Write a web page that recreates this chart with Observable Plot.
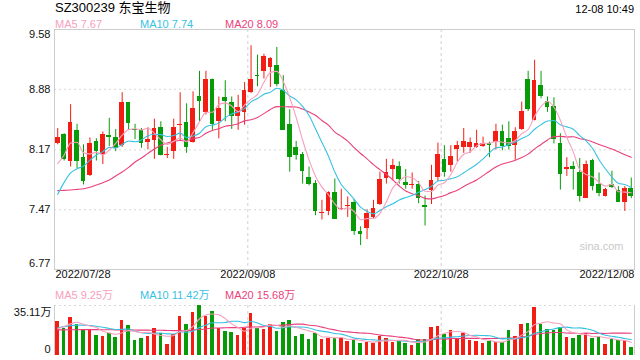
<!DOCTYPE html>
<html><head><meta charset="utf-8">
<script src="https://cdn.jsdelivr.net/npm/d3@7"></script>
<script src="https://cdn.jsdelivr.net/npm/@observablehq/plot@0.6"></script>
<style>
html,body{margin:0;padding:0;background:#fff;}
#wrap{position:relative;width:640px;height:360px;overflow:hidden;font-family:"Liberation Sans",Arial,"Noto Sans CJK SC",sans-serif;color:#000;}
.t{position:absolute;white-space:nowrap;line-height:1;}
#wrap svg{position:absolute;left:0;}
</style></head><body><div id="wrap"></div>
<script>
// ---- data ----
const title = "SZ300239 东宝生物";
const stamp = "12-08 10:49";
const dateLabels = ["2022/07/28","2022/09/08","2022/10/28","2022/12/08"];
const dateIndex = [0, 30, 60, 89];
const priceTicks = [9.58, 8.88, 8.17, 7.47, 6.77];
const volTicks = [35.11, 0];
const maLegend = ["MA5 7.67", "MA10 7.74", "MA20 8.09"];
const volLegend = ["MA5 9.25万", "MA10 11.42万", "MA20 15.68万"];

const open = [8.25,8.35,8.04,8.40,8.08,7.87,8.27,8.12,8.34,8.31,8.22,8.72,8.41,8.40,8.26,8.28,8.43,8.10,8.15,8.46,
8.49,8.26,8.80,8.61,9.00,8.50,8.78,8.72,8.56,8.61,8.84,9.04,9.09,9.14,9.16,8.87,8.47,8.20,8.12,7.85,
7.78,7.42,7.45,7.67,7.47,7.51,7.56,7.22,7.25,7.38,7.53,7.83,7.94,7.98,7.79,7.75,7.77,7.52,7.69,7.85,
8.06,7.99,8.17,8.20,8.20,8.20,8.21,8.25,8.26,8.39,8.30,8.22,8.41,9.00,8.51,8.92,8.74,8.68,8.25,7.94,
7.98,7.91,7.60,8.05,7.77,7.63,7.76,7.70,7.56,7.72];
const high = [8.42,8.36,8.70,8.47,8.23,8.31,8.30,8.38,8.54,8.41,8.84,8.72,8.47,8.42,8.43,8.53,8.50,8.20,8.53,8.84,
8.71,8.85,9.09,9.09,9.00,8.79,8.98,8.79,8.81,8.96,9.39,9.28,9.29,9.25,9.37,9.04,8.64,8.27,8.14,7.97,
7.81,7.58,7.68,7.83,7.71,7.62,7.59,7.27,7.47,7.58,7.91,8.06,8.06,8.03,7.94,7.90,7.80,7.63,7.99,8.25,
8.22,8.22,8.27,8.42,8.31,8.40,8.32,8.26,8.47,8.46,8.50,8.43,8.73,9.09,9.22,9.09,8.79,8.78,8.36,8.08,
8.03,8.07,8.04,8.06,7.90,7.72,7.92,7.74,7.74,7.84];
const low = [8.23,8.04,7.97,7.95,7.76,7.86,8.04,8.00,8.21,8.15,8.20,8.40,8.29,8.19,8.17,8.06,8.10,8.07,8.06,8.27,
8.13,8.25,8.50,8.58,8.40,8.30,8.50,8.41,8.40,8.46,8.83,8.91,9.00,8.90,8.91,8.40,7.91,8.05,7.77,7.75,
7.40,7.35,7.40,7.36,7.46,7.38,7.17,7.05,7.12,7.36,7.52,7.77,7.81,7.77,7.71,7.71,7.54,7.28,7.53,7.80,
7.85,7.91,8.03,8.13,8.13,8.19,8.20,8.08,8.17,8.16,8.17,8.05,8.40,8.62,8.51,8.77,8.61,8.24,7.70,7.86,
7.70,7.56,7.60,7.69,7.62,7.62,7.72,7.56,7.45,7.60];
const close = [8.31,8.06,8.49,8.03,7.80,8.24,8.15,8.35,8.31,8.19,8.72,8.48,8.40,8.24,8.29,8.42,8.11,8.12,8.43,8.47,
8.20,8.65,8.74,9.00,8.47,8.65,8.74,8.56,8.67,8.86,8.99,9.03,9.26,9.24,8.94,8.40,8.08,8.10,7.92,7.77,
7.45,7.44,7.67,7.36,7.48,7.52,7.22,7.18,7.43,7.49,7.82,7.90,7.99,7.82,7.75,7.76,7.60,7.50,7.81,8.12,
7.90,8.09,8.22,8.27,8.26,8.25,8.24,8.22,8.39,8.21,8.21,8.38,8.62,8.64,8.98,8.79,8.67,8.29,7.88,7.97,
7.94,7.62,8.00,7.74,7.66,7.71,7.73,7.56,7.72,7.62];
const ma5 = [8.01,8.11,8.25,8.26,8.138,8.124,8.141,8.113,8.169,8.247,8.343,8.408,8.418,8.404,8.424,8.363,8.290,8.235,8.272,8.309,
8.266,8.373,8.498,8.612,8.612,8.702,8.721,8.684,8.618,8.696,8.764,8.821,8.962,9.075,9.090,8.972,8.782,8.550,8.286,8.053,
7.863,7.735,7.647,7.537,7.478,7.492,7.449,7.352,7.366,7.368,7.428,7.563,7.726,7.803,7.856,7.844,7.785,7.686,7.684,7.758,
7.786,7.882,8.025,8.119,8.147,8.217,8.247,8.248,8.271,8.260,8.252,8.281,8.360,8.409,8.563,8.679,8.737,8.670,8.518,8.317,
8.147,7.939,7.882,7.854,7.792,7.746,7.767,7.680,7.676,7.668];
const ma10 = [7.65,7.79,7.90,7.95,7.98,8.05,8.11,8.15,8.20,8.193,8.233,8.275,8.266,8.287,8.335,8.353,8.349,8.327,8.338,8.367,
8.314,8.332,8.366,8.442,8.461,8.484,8.547,8.591,8.615,8.654,8.733,8.771,8.823,8.846,8.893,8.868,8.801,8.756,8.680,8.572,
8.417,8.258,8.099,7.911,7.765,7.678,7.592,7.500,7.451,7.423,7.460,7.506,7.539,7.585,7.612,7.636,7.674,7.706,7.744,7.807,
7.815,7.834,7.856,7.902,7.953,8.002,8.065,8.137,8.195,8.204,8.235,8.264,8.304,8.340,8.412,8.466,8.509,8.515,8.464,8.440,
8.413,8.338,8.276,8.186,8.055,7.947,7.853,7.781,7.765,7.730];
const ma20 = [7.693,7.697,7.701,7.708,7.716,7.732,7.759,7.786,7.818,7.865,7.911,7.966,8.028,8.075,8.130,8.181,8.224,8.251,8.270,8.280,
8.274,8.303,8.316,8.364,8.398,8.418,8.448,8.459,8.477,8.510,8.524,8.551,8.595,8.644,8.677,8.676,8.674,8.673,8.648,8.613,
8.575,8.515,8.461,8.379,8.329,8.273,8.197,8.128,8.066,7.997,7.939,7.882,7.819,7.748,7.689,7.657,7.633,7.603,7.597,7.615,
7.637,7.670,7.697,7.743,7.782,7.819,7.869,7.921,7.969,8.005,8.025,8.049,8.080,8.121,8.182,8.234,8.287,8.326,8.329,8.322,
8.324,8.301,8.290,8.263,8.233,8.206,8.181,8.148,8.114,8.085];
const volume = [24.1,19.2,26.5,21.5,18.0,18.3,14.0,13.3,15.7,12.6,24.6,21.1,10.5,11.9,13.3,19.0,15.7,7.7,14.7,27.4,
21.8,30.2,35.1,27.6,30.9,19.2,16.9,16.4,14.0,18.7,29.7,19.0,18.5,21.8,16.9,22.9,24.6,13.3,14.7,11.2,
15.7,11.2,11.9,12.2,11.9,9.8,10.5,8.4,9.4,8.7,13.3,11.9,9.4,10.1,8.4,7.0,11.0,11.0,19.7,20.4,
14.7,17.6,11.9,15.7,10.5,9.8,8.4,9.8,9.4,9.4,17.6,13.3,21.8,22.5,33.9,21.8,18.3,17.6,19.7,12.6,
11.9,14.0,15.4,11.9,13.3,7.7,11.2,10.5,10.5,5.6];
const vma5 = [18.7,20.4,22.2,23.4,21.9,20.7,19.7,17.0,15.9,14.8,16.0,17.5,16.9,16.1,16.3,15.2,14.1,13.5,14.1,16.9,
17.5,20.4,25.8,28.4,29.1,28.6,25.9,22.2,19.5,17.0,19.1,19.6,20.0,21.5,21.2,19.8,20.9,19.9,18.5,17.3,
15.9,13.2,12.9,12.4,12.6,11.4,11.3,10.6,10.0,9.4,10.1,10.3,10.5,10.7,10.6,9.4,9.2,9.5,11.4,13.8,
15.4,16.7,16.9,16.1,14.1,13.1,11.3,10.8,9.6,9.4,10.9,11.9,14.3,16.9,21.8,22.7,23.7,22.8,22.3,18.0,
16.0,15.2,14.7,13.2,13.3,12.5,11.9,10.9,10.6,9.1];
const vma10 = [19.5,20.3,21.0,21.3,21.3,21.0,20.5,19.8,19.0,18.3,18.4,18.6,17.0,16.0,15.5,15.6,15.8,15.2,15.1,16.6,
16.3,17.2,19.7,21.3,23.0,23.0,23.2,24.0,24.0,23.1,23.9,22.8,21.1,20.5,19.1,19.5,20.3,19.9,20.0,19.3,
17.9,17.1,16.4,15.5,15.0,13.7,12.2,11.8,11.2,11.0,10.7,10.8,10.6,10.3,10.0,9.7,9.8,10.0,11.1,12.2,
12.4,12.9,13.2,13.7,14.0,14.2,14.0,13.9,12.8,11.7,12.0,11.6,12.6,13.3,15.6,16.8,17.8,18.6,19.6,19.9,
19.3,19.4,18.8,17.7,15.7,14.2,13.5,12.8,11.9,11.2];
const vma20 = [18.0,18.0,18.1,18.1,18.2,18.2,18.2,18.1,18.1,18.0,18.0,17.9,17.9,17.8,17.8,17.7,17.7,17.6,17.5,17.5,
17.3,17.9,18.3,18.6,19.3,19.3,19.5,19.6,19.5,19.8,20.1,20.0,20.4,20.9,21.1,21.3,21.7,22.0,22.0,21.2,
20.9,19.9,18.8,18.0,17.0,16.6,16.2,15.8,15.6,15.1,14.3,13.9,13.5,12.9,12.5,11.7,11.0,10.9,11.1,11.6,
11.5,11.9,11.9,12.0,12.0,12.0,11.9,11.9,11.9,12.0,12.2,12.3,12.9,13.5,14.8,15.5,15.9,16.2,16.2,15.8,
15.7,15.5,15.7,15.5,15.6,15.5,15.7,15.7,15.7,15.6];

// ---- build ----
const arrs = {open, high, low, close, ma5, ma10, ma20, volume, vma5, vma10, vma20};
for (const [k, a] of Object.entries(arrs)) if (a.length !== 90) throw new Error(k + " length " + a.length);

const UP = "#f21d13", DOWN = "#089b08";
const C5 = "#f7a0bd", C10 = "#37c2e2", C20 = "#ea3f7c";
const FONT = '"Liberation Sans", Arial, "Noto Sans CJK SC", sans-serif';

const candles = open.map((o, i) => {
  const c = close[i];
  const lo = Math.min(o, c), hi = Math.max(o, c);
  return {i, o, c, h: high[i], l: low[i], b1: lo, b2: Math.max(hi, lo + 0.012),
          col: c >= o ? UP : DOWN, v: volume[i]};
});
const series = (arr) => arr.map((v, i) => ({i, v}));
const gridIdx = dateIndex.slice(1, -1).map(d => d - 0.5);
const xDom = [-0.5, 89.5];

const wrap = document.getElementById("wrap");
function addText(txt, css) {
  const d = document.createElement("div");
  d.className = "t"; d.textContent = txt;
  Object.assign(d.style, css);
  wrap.appendChild(d);
}

const main = Plot.plot({
  width: 640, height: 290,
  marginTop: 29, marginBottom: 21, marginLeft: 54, marginRight: 6,
  style: {fontFamily: FONT, fontSize: "11px", background: "transparent", overflow: "visible"},
  x: {domain: xDom, axis: null},
  y: {domain: [priceTicks[priceTicks.length - 1], priceTicks[0]], axis: null},
  color: {type: "identity"},
  marks: [
    Plot.ruleY(priceTicks.slice(1, -1), {stroke: "#d6d6d6", strokeDasharray: "2,3"}),
    Plot.ruleX(gridIdx, {stroke: "#cfcfcf", strokeDasharray: "3,3"}),
    Plot.frame({stroke: "#cdcdcd"}),
    Plot.ruleX(candles, {x: "i", y1: "l", y2: "h", stroke: "col", strokeWidth: 1}),
    Plot.rect(candles, {x1: d => d.i - 0.37, x2: d => d.i + 0.37, y1: "b1", y2: "b2", fill: "col", shapeRendering: "crispEdges"}),
    Plot.line(series(ma20), {x: "i", y: "v", stroke: C20, strokeWidth: 1.1, curve: "monotone-x"}),
    Plot.line(series(ma10), {x: "i", y: "v", stroke: C10, strokeWidth: 1.1, curve: "monotone-x"}),
    Plot.line(series(ma5), {x: "i", y: "v", stroke: C5, strokeWidth: 1.1, curve: "monotone-x"}),
    Plot.text(priceTicks.slice(1, -1), {y: d => d, text: d => d.toFixed(2), frameAnchor: "left", textAnchor: "end", dx: -4, fill: "#111"}),
    Plot.text(priceTicks.slice(0, 1), {y: d => d, text: d => d.toFixed(2), frameAnchor: "left", textAnchor: "end", dx: -4, dy: 5, fill: "#111"}),
    Plot.text(priceTicks.slice(-1), {y: d => d, text: d => d.toFixed(2), frameAnchor: "left", textAnchor: "end", dx: -4, dy: -6, fill: "#111"}),
    Plot.text([dateLabels[0]], {x: xDom[0], text: d => d, frameAnchor: "bottom", textAnchor: "start", dx: 1, dy: 8, fill: "#111"}),
    Plot.text(dateLabels.slice(1, -1), {x: (d, k) => gridIdx[k], text: d => d, frameAnchor: "bottom", dy: 8, fill: "#111"}),
    Plot.text([dateLabels[3]], {x: xDom[1], text: d => d, frameAnchor: "bottom", textAnchor: "end", dy: 8, fill: "#111"}),
    Plot.text(["sina.com"], {frameAnchor: "bottom-right", dx: -11, dy: -20, fill: "#c9c9c9", fontSize: 11})
  ]
});
main.style.top = "0px";
wrap.appendChild(main);

const vol = Plot.plot({
  width: 640, height: 70,
  marginTop: 15, marginBottom: 5, marginLeft: 54, marginRight: 6,
  style: {fontFamily: FONT, fontSize: "11px", background: "transparent", overflow: "visible"},
  x: {domain: xDom, axis: null},
  y: {domain: [0, volTicks[0]], axis: null},
  color: {type: "identity"},
  marks: [
    Plot.ruleY([volTicks[0]], {stroke: "#d6d6d6", strokeDasharray: "2,3"}),
    Plot.ruleX(gridIdx, {stroke: "#cfcfcf", strokeDasharray: "3,3"}),
    Plot.ruleX(xDom, {stroke: "#cdcdcd"}),
    Plot.rect(candles, {x1: d => d.i - 0.27, x2: d => d.i + 0.27, y1: 0, y2: "v", fill: "col", shapeRendering: "crispEdges"}),
    Plot.line(series(vma20), {x: "i", y: "v", stroke: C20, strokeWidth: 1.1, curve: "monotone-x"}),
    Plot.line(series(vma10), {x: "i", y: "v", stroke: C10, strokeWidth: 1.1, curve: "monotone-x"}),
    Plot.line(series(vma5), {x: "i", y: "v", stroke: C5, strokeWidth: 1.1, curve: "monotone-x"}),
    Plot.text([volTicks[0]], {y: d => d, text: d => d.toFixed(2) + "万", frameAnchor: "left", textAnchor: "end", dx: -3, dy: 7, fill: "#111"}),
    Plot.text([volTicks[1]], {y: d => d, text: d => String(d), frameAnchor: "left", textAnchor: "end", dx: -4, dy: -6, fill: "#111"})
  ]
});
vol.style.top = "290px";
wrap.appendChild(vol);

addText(title, {left: "55px", top: "1px", fontSize: "13px"});
addText(stamp, {right: "6px", top: "4px", fontSize: "11px"});
const legX = ["55px", "140px", "225px"], legC = [C5, C10, C20];
maLegend.forEach((t, k) => addText(t, {left: legX[k], top: "18.5px", fontSize: "11px", color: legC[k]}));
volLegend.forEach((t, k) => addText(t, {left: legX[k], top: "289.5px", fontSize: "11px", color: legC[k]}));
</script></body></html>
